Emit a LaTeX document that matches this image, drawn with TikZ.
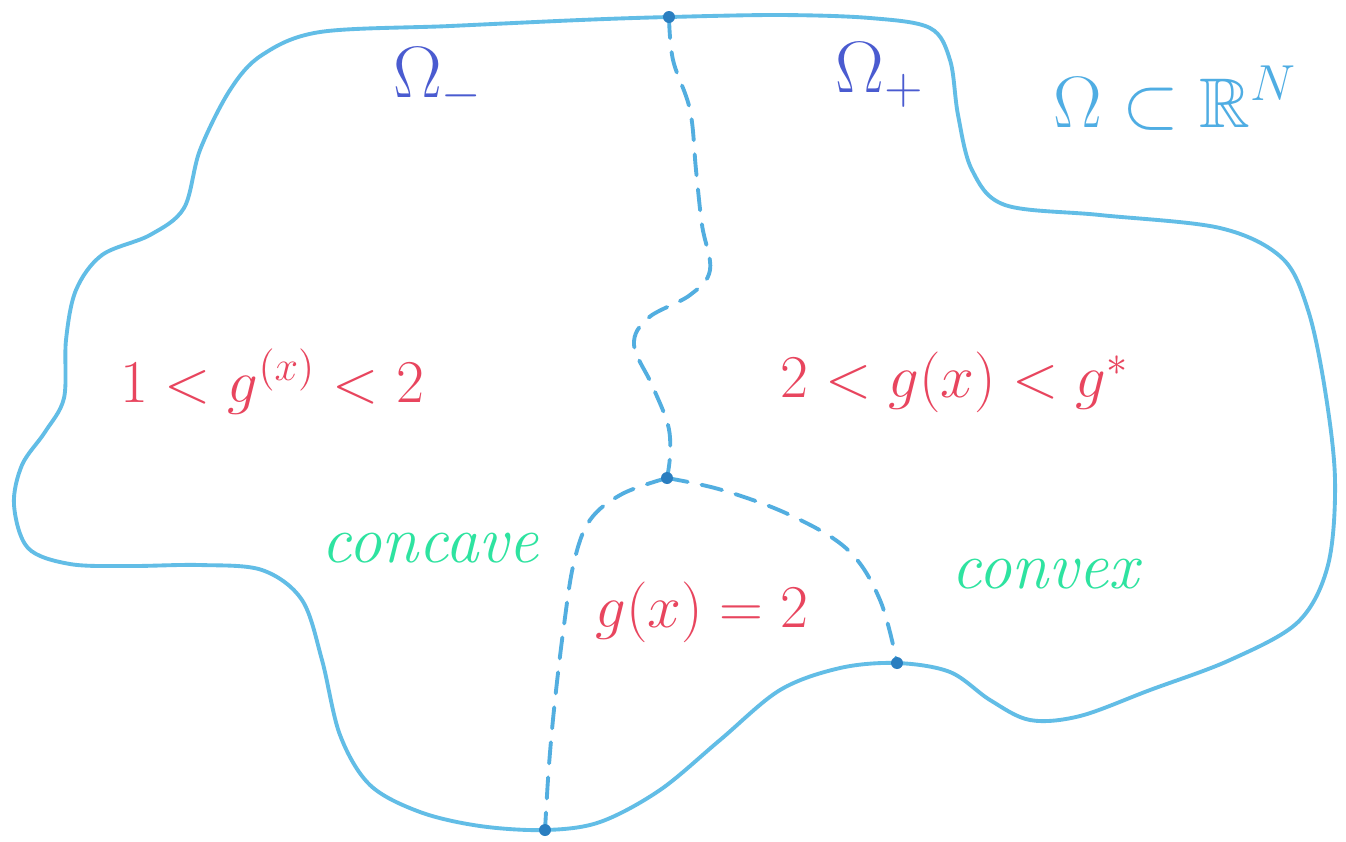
\documentclass[tikz,border=0pt]{standalone}
\usepackage{amssymb}
\begin{document}
\begin{tikzpicture}[x=0.01cm,y=-0.01cm,
  outline/.style={draw=outl,line width=1.1pt,line join=round},
  divider/.style={draw=divl,line width=1.1pt,dash pattern=on 6pt off 4pt,line cap=round},
  dot/.style={circle,fill=dotc,inner sep=0pt,minimum size=3.4pt},
  redlab/.style={text=redc,font=\fontsize{18}{22}\selectfont},
  greenlab/.style={text=greenc,font=\fontsize{19}{23}\selectfont\itshape},
  omlab/.style={text=omc,font=\fontsize{20}{24}\selectfont}]
\definecolor{outl}{HTML}{62BDE6}
\definecolor{divl}{HTML}{52AEE0}
\definecolor{dotc}{HTML}{2A7EC0}
\definecolor{redc}{HTML}{E8455E}
\definecolor{greenc}{HTML}{2EE3A0}
\definecolor{omc}{HTML}{4A5BD0}
\definecolor{bluec}{HTML}{4FADE3}
\useasboundingbox[fill=white] (0,0) rectangle (1346,841);
% junctions
\coordinate (T) at (669,17);
\coordinate (M) at (667,478);
\coordinate (R) at (897,663);
\coordinate (B) at (545,830);
% outer boundary
\draw[outline] plot[smooth cycle,tension=0.55] coordinates {
 (T) (780,15) (870,18) (930,28) (950,60) (958,115) (972,170) (1005,205)
 (1100,215) (1220,228) (1282,258) (1308,310) (1325,390) (1335,480)
 (1328,565) (1298,622) (1230,660) (1150,690) (1080,716) (1030,720)
 (990,700) (950,672) (R) (840,668) (780,690) (720,740) (660,790)
 (600,822) (B) (480,826) (420,812) (370,785) (340,735) (322,660)
 (302,600) (262,570) (200,565) (130,566) (70,564) (28,548) (14,505)
 (22,465) (45,432) (64,398) (66,340) (76,290) (102,255) (150,235)
 (184,208) (200,150) (230,90) (262,55) (320,32) (450,26) (580,20)};
% interior dividers
\draw[divider] plot[smooth,tension=0.6] coordinates {
 (T) (673,60) (690,110) (696,170) (702,225) (710,270) (690,295)
 (648,318) (634,345) (652,385) (668,425) (670,455) (M)};
\draw[divider] plot[smooth,tension=0.6] coordinates {
 (M) (622,494) (590,520) (574,562) (564,625) (555,700) (549,765) (B)};
\draw[divider] plot[smooth,tension=0.6] coordinates {
 (M) (722,490) (790,515) (848,550) (880,600) (R)};
% junction dots
\node[dot] (Td) at (T) {};
\node[dot] (Md) at (M) {};
\node[dot] (Rd) at (R) {};
\node[dot] (Bd) at (B) {};
% labels
\node[omlab] (om1) at (438,80) {$\Omega_{-}$};
\node[omlab] (om2) at (880,75) {$\Omega_{+}$};
\node[text=bluec,font=\fontsize{20}{24}\selectfont] (omr) at (1175,98) {$\Omega\subset\mathbb{R}^{N}$};
\node[redlab] (l1) at (272,382) {$1<g^{(x)}<2$};
\node[redlab] (l2) at (955,382) {$2<g(x)<g^{*}$};
\node[redlab] (l3) at (702,612) {$g(x)=2$};
\node[greenlab] (c1) at (430,548) {concave};
\node[greenlab] (c2) at (1045,574) {convex};
\end{tikzpicture}
\end{document}
